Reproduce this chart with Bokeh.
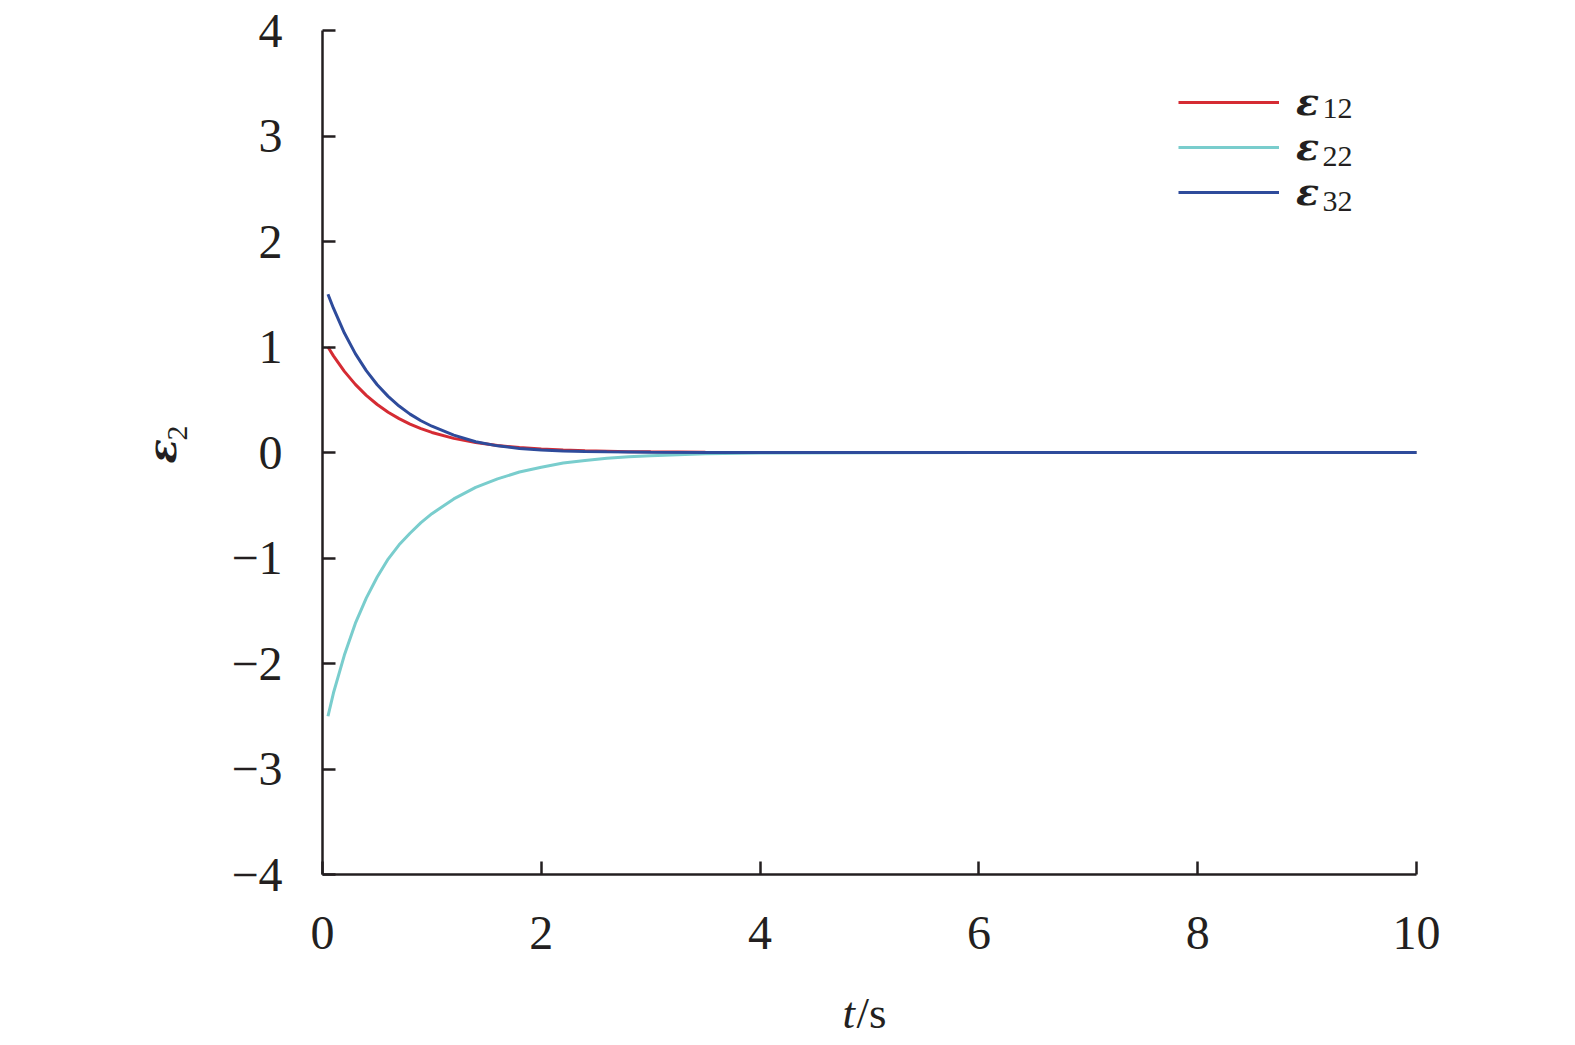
from bokeh.plotting import figure
from bokeh.models import (ColumnDataSource, FixedTicker, Legend, LegendItem, Label, Range1d,
                          LinearAxis)
from bokeh.embed import file_html
from bokeh.resources import INLINE
import math

# ---- data ----
t = [0.05, 0.1, 0.2, 0.3, 0.4, 0.5, 0.6, 0.7, 0.8, 0.9, 1.0, 1.2, 1.4, 1.6, 1.8,
     2.0, 2.2, 2.4, 2.6, 2.8, 3.0, 3.5, 4.0, 5.0, 6.0, 7.0, 8.0, 9.0, 10.0]
eps12 = [1.000, 0.916, 0.769, 0.646, 0.542, 0.455, 0.382, 0.321, 0.269, 0.226, 0.190,
         0.134, 0.094, 0.066, 0.047, 0.033, 0.023, 0.016, 0.012, 0.008, 0.006, 0.003,
         0.001, 0.0, 0.0, 0.0, 0.0, 0.0, 0.0]
eps22 = [-2.50, -2.28, -1.92, -1.62, -1.38, -1.18, -1.01, -0.875, -0.765, -0.665, -0.58,
         -0.44, -0.33, -0.25, -0.185, -0.14, -0.10, -0.075, -0.055, -0.04, -0.03, -0.012,
         -0.005, -0.002, 0.0, 0.0, 0.0, 0.0, 0.0]
eps32 = [1.500, 1.368, 1.132, 0.937, 0.776, 0.642, 0.532, 0.440, 0.364, 0.301, 0.249,
         0.165, 0.102, 0.063, 0.039, 0.024, 0.015, 0.009, 0.006, 0.004, 0.002, 0.001,
         0.0, 0.0, 0.0, 0.0, 0.0, 0.0, 0.0]
series_subs = ["12", "22", "32"]
series_colors = ["#d52b33", "#79cdcd", "#2e4b9b"]
x_ticks = [0, 2, 4, 6, 8, 10]
y_ticks = [-4, -3, -2, -1, 0, 1, 2, 3, 4]
x_lim = (0, 10)
y_lim = (-4, 4)

W, H = 1565, 1040
# page placement of the axes box (pixels)
AX_L, AX_R, AX_T, AX_B = 322, 1416, 30, 874
FONT = "Liberation Serif"
GREEK = "DejaVu Serif"
INK = "#231f20"

# ranges extended so that the axes box lands at the wanted place on the canvas
sx = (AX_R - AX_L) / (x_lim[1] - x_lim[0])
sy = (AX_B - AX_T) / (y_lim[1] - y_lim[0])
xr = Range1d(x_lim[0] - AX_L / sx, x_lim[1] + (W - AX_R) / sx)
yr = Range1d(y_lim[0] - (H - AX_B) / sy, y_lim[1] + AX_T / sy)

src = ColumnDataSource(dict(t=t, e12=eps12, e22=eps22, e32=eps32))

p = figure(width=W, height=H, output_backend="svg", toolbar_location=None,
           x_range=xr, y_range=yr, x_axis_type=None, y_axis_type=None,
           min_border=0)
p.outline_line_color = None
p.grid.visible = False
p.background_fill_color = "white"

r1 = p.line("t", "e12", source=src, line_color=series_colors[0], line_width=3)
r2 = p.line("t", "e22", source=src, line_color=series_colors[1], line_width=3)
r3 = p.line("t", "e32", source=src, line_color=series_colors[2], line_width=3)

xaxis = LinearAxis(fixed_location=y_lim[0], bounds=x_lim)
yaxis = LinearAxis(fixed_location=x_lim[0], bounds=y_lim)
for ax, ticks in ((xaxis, x_ticks), (yaxis, y_ticks)):
    ax.ticker = FixedTicker(ticks=ticks)
    ax.minor_tick_line_color = None
    ax.major_tick_in = 13
    ax.major_tick_out = 0
    ax.major_tick_line_width = 2.5
    ax.major_tick_line_color = INK
    ax.axis_line_width = 2.5
    ax.axis_line_color = INK
    ax.major_label_text_font = FONT
    ax.major_label_text_font_size = "48px"
    ax.major_label_text_color = INK
    ax.major_label_overrides = {v: (str(v).replace("-", "\u2212")) for v in ticks}
xaxis.major_label_standoff = 42
yaxis.major_label_standoff = 40
p.add_layout(xaxis, "below")
p.add_layout(yaxis, "left")

legend = Legend(items=[LegendItem(label="\u03b5", renderers=[r]) for r in (r1, r2, r3)],
                location=(1178, 826), padding=0, margin=0, spacing=0,
                glyph_width=101, glyph_height=44, label_height=44, label_standoff=17,
                label_text_font=GREEK, label_text_font_size="38px",
                label_text_font_style="bold italic", label_text_color=INK,
                border_line_color=None, background_fill_alpha=0)
p.add_layout(legend)

# subscripts of legend labels
for sub, yb in zip(series_subs, (932, 884, 839)):
    p.add_layout(Label(x=1322, y=yb, x_units="screen", y_units="screen", text=sub,
                       text_font=FONT, text_font_size="30px", text_color=INK,
                       text_baseline="alphabetic", text_align="left"))

# y axis label: epsilon_2 (rotated)
p.add_layout(Label(x=161, y=577, x_units="screen", y_units="screen", text="\u03b5",
                   angle=math.pi / 2, text_font=GREEK, text_font_size="40px",
                   text_font_style="bold italic", text_color=INK,
                   text_baseline="alphabetic", text_align="left"))
p.add_layout(Label(x=177, y=600, x_units="screen", y_units="screen", text="2",
                   angle=math.pi / 2, text_font=FONT, text_font_size="30px",
                   text_color=INK, text_baseline="alphabetic", text_align="left"))

# x axis label: t/s
p.add_layout(Label(x=842, y=28, x_units="screen", y_units="screen", text="t",
                   text_font=FONT, text_font_size="45px", text_font_style="italic",
                   text_color=INK, text_baseline="alphabetic", text_align="left"))
p.add_layout(Label(x=856, y=28, x_units="screen", y_units="screen", text="/s",
                   text_font=FONT, text_font_size="45px",
                   text_color=INK, text_baseline="alphabetic", text_align="left"))

open("out.html", "w").write(file_html(p, INLINE))
